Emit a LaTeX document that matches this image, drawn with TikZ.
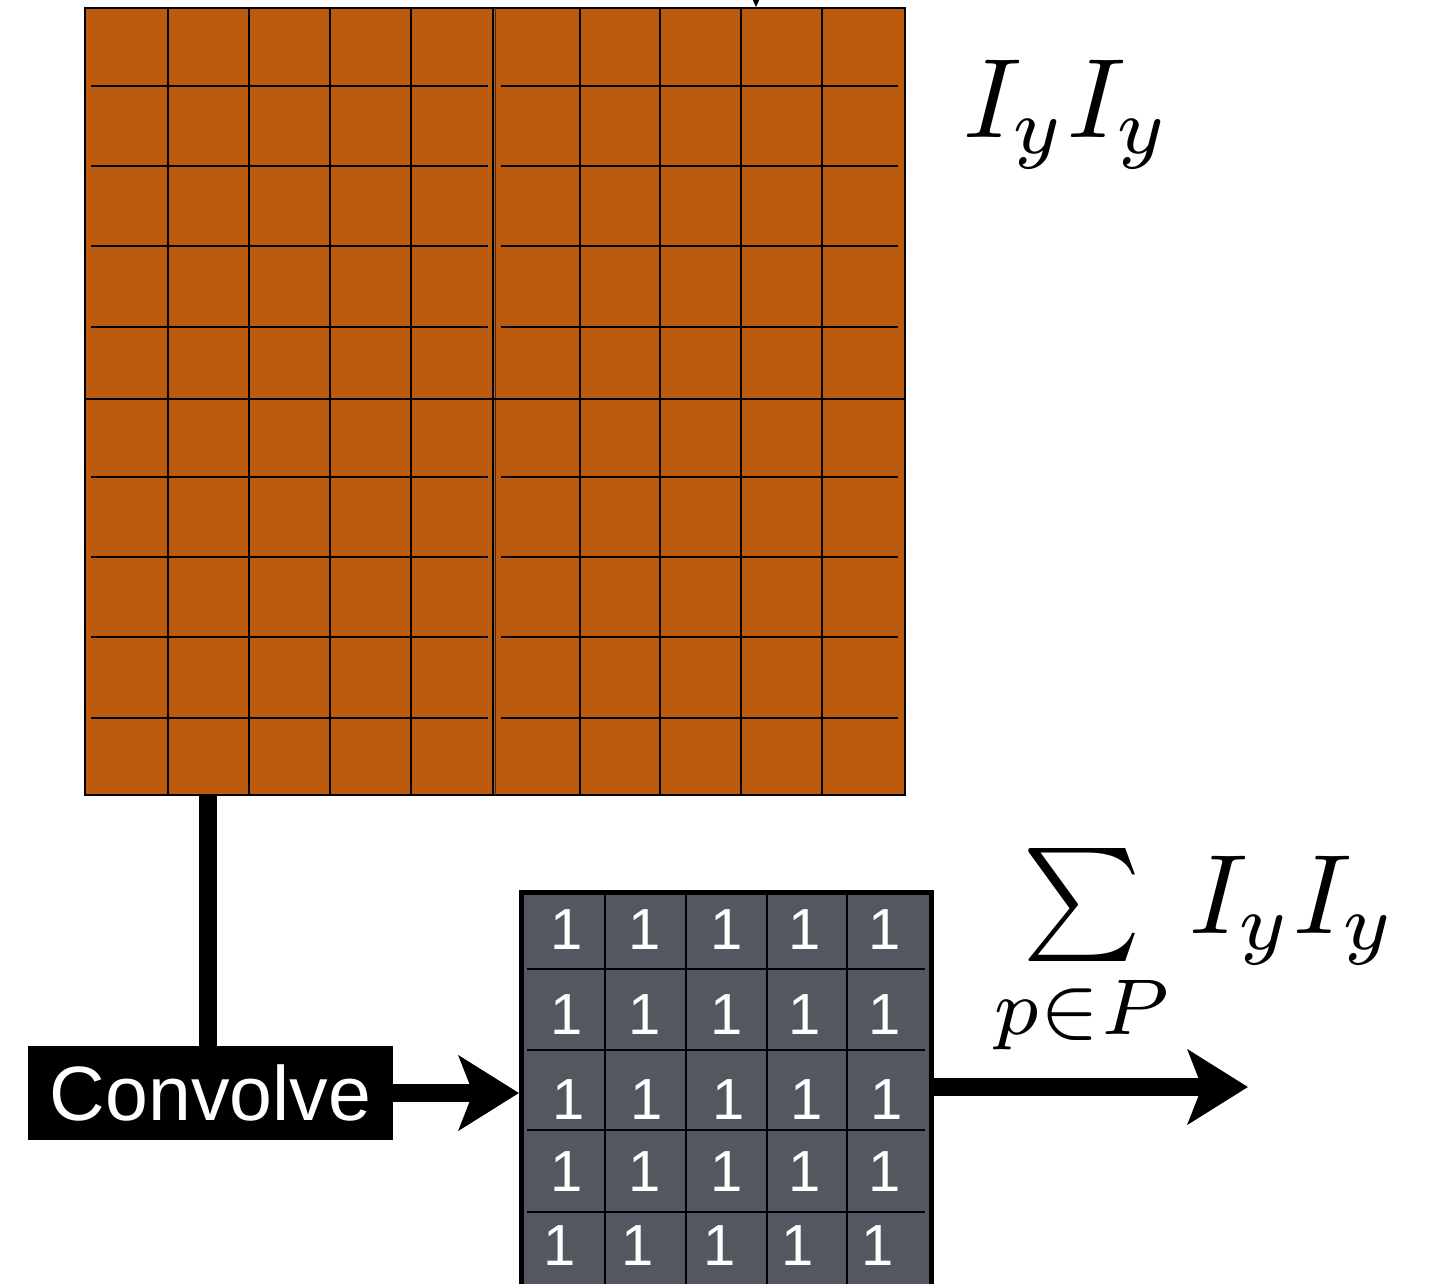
\documentclass[tikz,border=0pt]{standalone}
\usepackage{amsmath}
\usepackage{fontspec}
\setsansfont{Liberation Sans}
\usetikzlibrary{arrows.meta}
\definecolor{rust}{RGB}{188,91,13}
\definecolor{slate}{RGB}{83,88,96}
\begin{document}
\begin{tikzpicture}[x=1pt,y=-1pt,
  gridline/.style={line width=2pt,draw=black},
  kernline/.style={line width=2pt,draw=black},
  flow/.style={line width=18pt,-{Stealth[length=60pt,width=74pt,inset=14pt]}},
  mathlabel/.style={inner sep=0pt,anchor=base west,scale=11.3},
  digit/.style={inner sep=0pt,text=white,font=\sffamily\fontsize{58}{58}\selectfont},
  opbox/.style={fill=black,text=white,inner sep=0pt,outer sep=0pt,font=\sffamily\fontsize{77}{77}\selectfont}
]
\useasboundingbox (0,0) rectangle (1450,1283);

% orange image grid
\node[draw=black,line width=2pt,fill=rust,minimum width=820pt,minimum height=787pt,inner sep=0pt] (orange) at (495,401.5) {};
\foreach \x in {168,249,330,411,580,660,741,822}
  \draw[gridline] (\x,8) -- (\x,795);
\draw[gridline] (493,8) -- (493,795);
\draw[line width=1.2pt,black!80] (495.5,8) -- (495.5,795);
\foreach \y in {86,166,246,327,477,557,637,718} {
  \draw[gridline] (91,\y) -- (488,\y);
  \draw[gridline] (501,\y) -- (898,\y);
}
\draw[gridline] (85,399) -- (905,399);

% incoming arrow at top
\coordinate (src) at (756,-40);
\draw[line width=1pt,-{Triangle[length=8pt,width=7pt]}] (src) -- (src |- orange.north);

% label of image
\node[mathlabel] (lab1) at (961,137) {$I_yI_y$};

% convolve box
\node[opbox,minimum width=365pt,minimum height=94pt] (conv) at (210.5,1093) {Convolve};
\draw[line width=18pt] (conv.north) ++(-2.5,0) coordinate (vb) -- (vb |- orange.south);

% kernel grid
\node[draw=black,line width=5pt,fill=slate,minimum width=410pt,minimum height=401pt,inner sep=0pt] (kern) at (726.5,1093) {};
\foreach \x in {605,686,767,847}
  \draw[kernline] (\x,892) -- (\x,1294);
\foreach \y in {969,1050,1130,1212}
  \draw[kernline] (527,\y) -- (925,\y);
\foreach \r/\yy/\dx in {1/930/0,2/1015/0,3/1100/2,4/1172/0,5/1246/-7}
  \foreach \c/\xx in {1/567,2/645,3/727,4/805,5/885}
    \node[digit] (d\r\c) at (\xx+\dx,\yy) {1};

% arrows
\draw[flow] (conv.east) -- (conv.east -| kern.west);
\coordinate (out) at (1248,1087);
\draw[flow] (kern.east |- out) -- (out);

% sum label
\node[mathlabel] (lab2) at (991,933) {$\sum\limits_{p\in P} I_yI_y$};
\end{tikzpicture}
\end{document}
